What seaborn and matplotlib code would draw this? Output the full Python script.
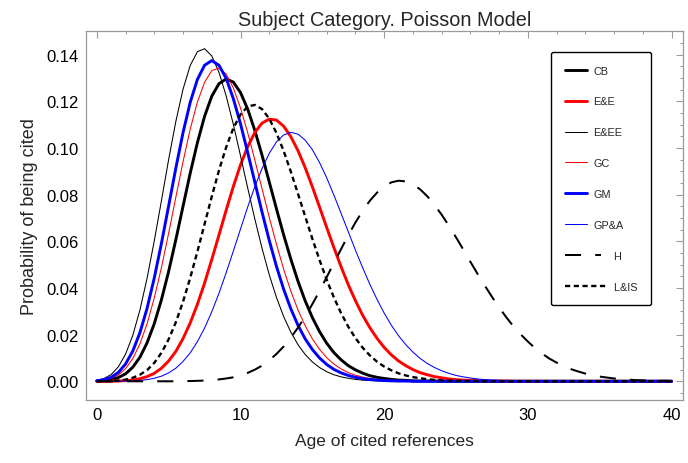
import numpy as np
import matplotlib
matplotlib.use("Agg")
import matplotlib.pyplot as plt
import seaborn as sns
from matplotlib.legend_handler import HandlerLine2D
from matplotlib.ticker import MultipleLocator, FormatStrFormatter

# ---------------- data ----------------
age = np.arange(0, 40.5, 0.5)

cb = [0.0001, 0.0002, 0.0007, 0.0016, 0.0032, 0.0060, 0.0103, 0.0165, 0.0247, 0.0350,
      0.0471, 0.0607, 0.0750, 0.0892, 0.1023, 0.1136, 0.1222, 0.1276, 0.1296, 0.1283,
      0.1238, 0.1167, 0.1075, 0.0969, 0.0855, 0.0740, 0.0628, 0.0524, 0.0429, 0.0345,
      0.0273, 0.0213, 0.0163, 0.0123, 0.0092, 0.0067, 0.0049, 0.0035, 0.0024, 0.0017,
      0.0012, 0.0008, 0.0005, 0.0004, 0.0002, 0.0001, 0.0001, 0.0001, 0, 0,
      0, 0, 0, 0, 0, 0, 0, 0, 0, 0,
      0, 0, 0, 0, 0, 0, 0, 0, 0, 0,
      0, 0, 0, 0, 0, 0, 0, 0, 0, 0,
      0]

e_e = [0, 0, 0, 0.0001, 0.0003, 0.0005, 0.0011, 0.0020, 0.0034, 0.0056,
       0.0087, 0.0128, 0.0183, 0.0250, 0.0330, 0.0421, 0.0522, 0.0627, 0.0733, 0.0835,
       0.0928, 0.1006, 0.1067, 0.1107, 0.1124, 0.1120, 0.1094, 0.1049, 0.0989, 0.0916,
       0.0834, 0.0747, 0.0659, 0.0573, 0.0491, 0.0414, 0.0345, 0.0283, 0.0230, 0.0184,
       0.0145, 0.0113, 0.0087, 0.0067, 0.0050, 0.0037, 0.0028, 0.0020, 0.0015, 0.0010,
       0.0007, 0.0005, 0.0004, 0.0002, 0.0002, 0.0001, 0.0001, 0.0001, 0, 0,
       0, 0, 0, 0, 0, 0, 0, 0, 0, 0,
       0, 0, 0, 0, 0, 0, 0, 0, 0, 0,
       0]

e_ee = [0.0004, 0.0012, 0.0029, 0.0062, 0.0116, 0.0196, 0.0305, 0.0442, 0.0602, 0.0775,
        0.0951, 0.1114, 0.1252, 0.1354, 0.1413, 0.1426, 0.1395, 0.1325, 0.1224, 0.1102,
        0.0967, 0.0829, 0.0695, 0.0570, 0.0457, 0.0360, 0.0278, 0.0211, 0.0157, 0.0115,
        0.0083, 0.0059, 0.0041, 0.0028, 0.0019, 0.0013, 0.0008, 0.0005, 0.0003, 0.0002,
        0.0001, 0.0001, 0, 0, 0, 0, 0, 0, 0, 0,
        0, 0, 0, 0, 0, 0, 0, 0, 0, 0,
        0, 0, 0, 0, 0, 0, 0, 0, 0, 0,
        0, 0, 0, 0, 0, 0, 0, 0, 0, 0,
        0]

gc = [0.0001, 0.0005, 0.0012, 0.0027, 0.0054, 0.0097, 0.0160, 0.0247, 0.0357, 0.0488,
      0.0635, 0.0789, 0.0941, 0.1081, 0.1197, 0.1282, 0.1332, 0.1343, 0.1317, 0.1258,
      0.1172, 0.1066, 0.0948, 0.0825, 0.0703, 0.0588, 0.0481, 0.0387, 0.0306, 0.0238,
      0.0182, 0.0137, 0.0101, 0.0074, 0.0053, 0.0037, 0.0026, 0.0018, 0.0012, 0.0008,
      0.0005, 0.0004, 0.0002, 0.0001, 0.0001, 0, 0, 0, 0, 0,
      0, 0, 0, 0, 0, 0, 0, 0, 0, 0,
      0, 0, 0, 0, 0, 0, 0, 0, 0, 0,
      0, 0, 0, 0, 0, 0, 0, 0, 0, 0,
      0]

gm = [0.0002, 0.0007, 0.0017, 0.0038, 0.0074, 0.0129, 0.0208, 0.0313, 0.0443, 0.0592,
      0.0752, 0.0914, 0.1066, 0.1196, 0.1294, 0.1355, 0.1375, 0.1355, 0.1299, 0.1212,
      0.1104, 0.0981, 0.0853, 0.0725, 0.0604, 0.0493, 0.0395, 0.0311, 0.0240, 0.0182,
      0.0136, 0.0100, 0.0072, 0.0051, 0.0036, 0.0025, 0.0017, 0.0011, 0.0008, 0.0005,
      0.0003, 0.0002, 0.0001, 0.0001, 0, 0, 0, 0, 0, 0,
      0, 0, 0, 0, 0, 0, 0, 0, 0, 0,
      0, 0, 0, 0, 0, 0, 0, 0, 0, 0,
      0, 0, 0, 0, 0, 0, 0, 0, 0, 0,
      0]

gp_a = [0, 0, 0, 0, 0.0001, 0.0002, 0.0004, 0.0007, 0.0013, 0.0022,
        0.0036, 0.0056, 0.0085, 0.0122, 0.0170, 0.0228, 0.0298, 0.0377, 0.0465, 0.0558,
        0.0653, 0.0747, 0.0835, 0.0912, 0.0977, 0.1026, 0.1056, 0.1067, 0.1060, 0.1034,
        0.0993, 0.0938, 0.0872, 0.0798, 0.0720, 0.0641, 0.0562, 0.0487, 0.0416, 0.0351,
        0.0292, 0.0240, 0.0195, 0.0157, 0.0125, 0.0098, 0.0076, 0.0059, 0.0045, 0.0034,
        0.0025, 0.0019, 0.0014, 0.0010, 0.0007, 0.0005, 0.0004, 0.0002, 0.0002, 0.0001,
        0.0001, 0.0001, 0, 0, 0, 0, 0, 0, 0, 0,
        0, 0, 0, 0, 0, 0, 0, 0, 0, 0,
        0]

h = [0, 0, 0, 0, 0, 0, 0, 0, 0, 0,
     0, 0, 0.0001, 0.0001, 0.0002, 0.0003, 0.0005, 0.0008, 0.0012, 0.0017,
     0.0025, 0.0036, 0.0050, 0.0067, 0.0090, 0.0117, 0.0149, 0.0187, 0.0230, 0.0278,
     0.0331, 0.0387, 0.0447, 0.0507, 0.0567, 0.0626, 0.0681, 0.0731, 0.0774, 0.0809,
     0.0836, 0.0853, 0.0860, 0.0857, 0.0844, 0.0823, 0.0793, 0.0756, 0.0714, 0.0667,
     0.0617, 0.0565, 0.0512, 0.0460, 0.0410, 0.0362, 0.0316, 0.0274, 0.0235, 0.0201,
     0.0170, 0.0142, 0.0118, 0.0097, 0.0080, 0.0065, 0.0052, 0.0042, 0.0033, 0.0026,
     0.0020, 0.0016, 0.0012, 0.0009, 0.0007, 0.0005, 0.0004, 0.0003, 0.0002, 0.0002,
     0.0001]

l_is = [0, 0, 0.0001, 0.0003, 0.0007, 0.0015, 0.0028, 0.0048, 0.0079, 0.0122,
        0.0180, 0.0253, 0.0341, 0.0443, 0.0556, 0.0674, 0.0792, 0.0904, 0.1003, 0.1085,
        0.1144, 0.1178, 0.1185, 0.1167, 0.1126, 0.1065, 0.0988, 0.0899, 0.0804, 0.0707,
        0.0611, 0.0520, 0.0435, 0.0359, 0.0292, 0.0234, 0.0185, 0.0144, 0.0111, 0.0084,
        0.0063, 0.0047, 0.0034, 0.0025, 0.0018, 0.0013, 0.0009, 0.0006, 0.0004, 0.0003,
        0.0002, 0.0001, 0.0001, 0.0001, 0, 0, 0, 0, 0, 0,
        0, 0, 0, 0, 0, 0, 0, 0, 0, 0,
        0, 0, 0, 0, 0, 0, 0, 0, 0, 0,
        0]

names = ["CB", "E&E", "E&EE", "GC", "GM", "GP&A", "H", "L&IS"]
series = [cb, e_e, e_ee, gc, gm, gp_a, h, l_is]

# ---------------- styles ----------------
colors = ["black", "#ff0000", "black", "#ff0000", "#0000ff", "#0000ff", "black", "black"]
widths = [2.1, 2.1, 0.75, 0.75, 2.1, 0.75, 1.45, 1.7]
dashes = [None, None, None, None, None, None, (8, 7), (2.2, 1.5)]

sns.set_style("white")
plt.rcParams["font.family"] = ["Liberation Sans", "DejaVu Sans"]

fig = plt.figure(figsize=(6.88, 4.64), dpi=100)
ax = fig.add_axes([0.1246, 0.1364, 0.8677, 0.7947])

handles = []
for name, vals, c, w, d in zip(names, series, colors, widths, dashes):
    sns.lineplot(x=age, y=vals, ax=ax, color=c, linewidth=w,
                 estimator=None, sort=False, legend=False)
    line = ax.lines[-1]
    line.set_label(name)
    if d is not None:
        line.set_linestyle((0, d))
    handles.append(line)

ax.set_xlim(-0.77, 40.77)
ax.set_ylim(-0.0079, 0.1502)

ax.xaxis.set_major_locator(MultipleLocator(10))
ax.xaxis.set_minor_locator(MultipleLocator(2))
ax.yaxis.set_major_locator(MultipleLocator(0.02))
ax.yaxis.set_minor_locator(MultipleLocator(0.005))
ax.yaxis.set_major_formatter(FormatStrFormatter("%.2f"))

tick_col = "#9a9a9a"
ax.tick_params(which="both", direction="in", top=True, right=True,
               color=tick_col, labelcolor="black")
ax.tick_params(which="major", length=5, width=0.8, labelsize=12, pad=5)
ax.tick_params(which="minor", length=2.5, width=0.7)
for sp in ax.spines.values():
    sp.set_color(tick_col)
    sp.set_linewidth(0.9)

ax.set_xlabel("Age of cited references", fontsize=12.5, labelpad=8)
ax.set_ylabel("Probability of being cited", fontsize=13, labelpad=6)
ax.set_title("Subject Category. Poisson Model", fontsize=14.3, pad=4.5)


class LongHandler(HandlerLine2D):
    def __init__(self, extra, **kw):
        super().__init__(**kw)
        self.extra = extra

    def create_artists(self, legend, orig_handle, xdescent, ydescent,
                       width, height, fontsize, trans):
        return super().create_artists(legend, orig_handle, xdescent, ydescent,
                                      width + self.extra, height, fontsize, trans)


labels = ["CB", "E&E", "E&EE", "GC", "GM", "GP&A", "       H", "       L&IS"]
leg = ax.legend(handles, labels, loc="upper left", bbox_to_anchor=(0.7794, 0.943),
                borderaxespad=0, fontsize=7.8, handlelength=2.1, handletextpad=0.53,
                labelspacing=1.93, borderpad=1.25, frameon=True, fancybox=True,
                handler_map={handles[6]: LongHandler(10), handles[7]: LongHandler(13.5)})
fr = leg.get_frame()
fr.set_edgecolor("black")
fr.set_linewidth(1.0)
fr.set_facecolor("white")
fr.set_alpha(1)

fig.savefig("out.png", dpi=100)
